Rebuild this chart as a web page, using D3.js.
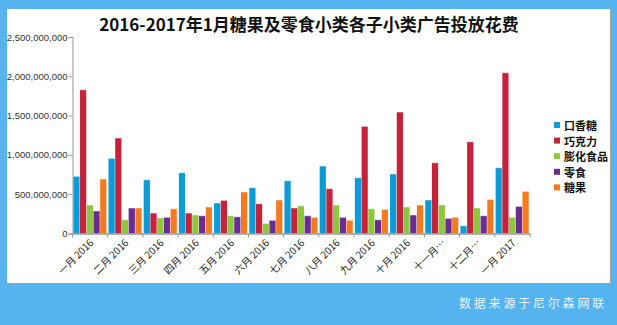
<!DOCTYPE html>
<html><head><meta charset="utf-8">
<script src="https://cdn.jsdelivr.net/npm/d3@7"></script>
<style>
html,body{margin:0;padding:0;background:#55b4f0;}
svg{display:block;}
</style></head>
<body>
<script>
const months = ["一月 2016","二月 2016","三月 2016","四月 2016","五月 2016","六月 2016","七月 2016","八月 2016","九月 2016","十月 2016","十一月 2016","十二月 2016","一月 2017"];
const monthLabels = ["一月 2016","二月 2016","三月 2016","四月 2016","五月 2016","六月 2016","七月 2016","八月 2016","九月 2016","十月 2016","十一月…","十二月…","一月 2017"];
const seriesNames = ["口香糖","巧克力","膨化食品","零食","糖果"];
const s_gum    = [720e6, 949e6, 678e6, 767e6, 382e6, 577e6, 666e6, 852e6, 704e6, 751e6, 420e6, 93e6, 831e6];
const s_choc   = [1823e6, 1209e6, 254e6, 254e6, 415e6, 373e6, 318e6, 564e6, 1356e6, 1539e6, 894e6, 1162e6, 2039e6];
const s_puff   = [356e6, 169e6, 191e6, 229e6, 220e6, 122e6, 348e6, 356e6, 309e6, 331e6, 356e6, 318e6, 199e6];
const s_snack  = [280e6, 318e6, 199e6, 220e6, 207e6, 161e6, 220e6, 199e6, 169e6, 229e6, 186e6, 220e6, 338e6];
const s_candy  = [687e6, 318e6, 309e6, 331e6, 522e6, 420e6, 199e6, 161e6, 300e6, 356e6, 199e6, 427e6, 529e6];
const yTicks = [0, 500e6, 1000e6, 1500e6, 2000e6, 2500e6];
const colors = ["#0a9bd8","#c8213a","#8dc63f","#6a2c91","#f47a20"];
const allSeries = [s_gum, s_choc, s_puff, s_snack, s_candy];

const W = 617, H = 325;
const svg = d3.select("body").append("svg").attr("width", W).attr("height", H);

// panel
svg.append("rect").attr("x", 8).attr("y", 10).attr("width", 603).attr("height", 274).attr("fill", "#a0a0a0");
svg.append("rect").attr("x", 7).attr("y", 9).attr("width", 603).attr("height", 274).attr("fill", "#ffffff");

svg.append("text").attr("x", 309).attr("y", 31).attr("text-anchor", "middle")
  .attr("font-family", "'Noto Sans CJK SC', sans-serif").attr("font-weight", "bold")
  .attr("font-size", 17).attr("fill", "#111").text("2016-2017年1月糖果及零食小类各子小类广告投放花费");

const x0 = 72.5, x1 = 530, yTop = 37, yBot = 233.5;
const x = d3.scaleBand().domain(months).range([x0, x1]).paddingInner(0).paddingOuter(0);
const xs = d3.scaleBand().domain(seriesNames).range([0, x.bandwidth()]).paddingOuter(0.12).paddingInner(0.0);
const y = d3.scaleLinear().domain([0, 2500e6]).range([yBot, yTop]);

// bars
const g = svg.append("g");
allSeries.forEach((arr, si) => {
  g.selectAll(null).data(arr).enter().append("rect")
    .attr("x", (d, i) => x(months[i]) + xs(seriesNames[si]))
    .attr("width", xs.bandwidth() - 0.5)
    .attr("y", d => y(d))
    .attr("height", d => yBot - y(d))
    .attr("fill", colors[si]);
  g.selectAll(null).data(arr).enter().append("rect")
    .attr("x", (d, i) => x(months[i]) + xs(seriesNames[si]))
    .attr("width", xs.bandwidth() - 0.5)
    .attr("y", d => y(d) - 0.5)
    .attr("height", 1)
    .attr("fill", colors[si]).attr("opacity", 0.5);
});

// y axis
const yAxis = d3.axisLeft(y).tickValues(yTicks).tickSize(4).tickFormat(d3.format(","));
const ya = svg.append("g").attr("transform", `translate(${x0},0)`).call(yAxis);
ya.select(".domain").attr("stroke", "#999");
ya.selectAll(".tick line").attr("stroke", "#999");
ya.selectAll("text").attr("font-family", "'Liberation Sans', Arial, sans-serif").attr("font-size", 9.5).attr("fill", "#333").attr("x", -5);

// x axis
const xAxis = d3.axisBottom(x).tickSize(0).tickFormat("");
const xa = svg.append("g").attr("transform", `translate(0,${yBot})`).call(xAxis);
xa.select(".domain").attr("stroke", "#999").attr("stroke-width", 1.5);
const bounds = months.map(m => x(m)).concat([x1]);
xa.selectAll(".btick").data(bounds).enter().append("line").attr("class", "btick")
  .attr("x1", d => d).attr("x2", d => d).attr("y1", 0).attr("y2", 4).attr("stroke", "#999");
xa.selectAll(".xl").data(months).enter().append("text").attr("class", "xl")
  .attr("transform", d => `translate(${x(d) + x.bandwidth() / 2 + 4},${10}) rotate(-45)`)
  .attr("text-anchor", "end")
  .attr("font-family", "'Noto Sans CJK SC', sans-serif").attr("font-size", 10).attr("fill", "#222")
  .text((d, i) => monthLabels[i]);

// legend
const lg = svg.append("g");
seriesNames.forEach((n, i) => {
  const yy = 126 + i * 15.6;
  lg.append("rect").attr("x", 554).attr("y", yy - 4).attr("width", 6).attr("height", 6).attr("fill", colors[i]);
  lg.append("text").attr("x", 564).attr("y", yy + 4).attr("font-family", "'Noto Sans CJK SC', sans-serif")
    .attr("font-size", 11).attr("font-weight", "bold").attr("fill", "#111").text(n);
});

// footer
svg.append("text").attr("x", 607).attr("y", 308).attr("text-anchor", "end")
  .attr("font-family", "'Noto Sans CJK SC', sans-serif").attr("font-size", 12)
  .attr("letter-spacing", "2.8px").attr("fill", "#e6f3ff").text("数据来源于尼尔森网联");
</script>
</body></html>
